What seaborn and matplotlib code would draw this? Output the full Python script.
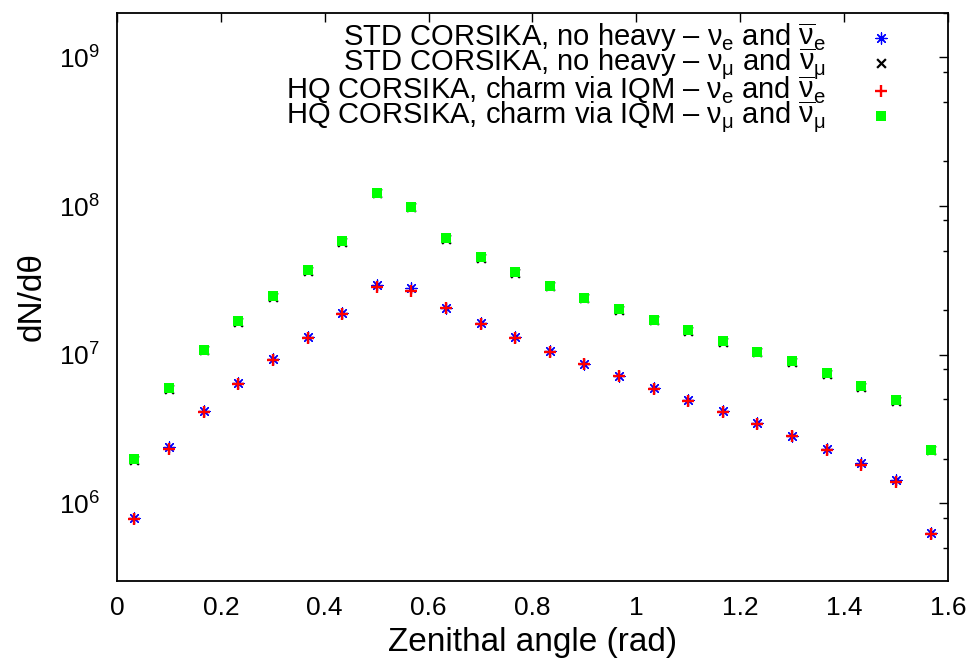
import matplotlib
matplotlib.use("Agg")
import matplotlib.pyplot as plt
from matplotlib.legend import Legend
from matplotlib.ticker import LogLocator, FixedLocator, NullFormatter, LogFormatterSciNotation
import seaborn as sns
import pandas as pd

# ---------------- data ----------------
theta = [0.033, 0.100, 0.167, 0.233, 0.300, 0.367, 0.433, 0.500, 0.567, 0.633,
         0.700, 0.767, 0.833, 0.900, 0.967, 1.033, 1.100, 1.167, 1.233, 1.300,
         1.367, 1.433, 1.500, 1.567]

nue_std = [8.0e5, 2.38e6, 4.2e6, 6.4e6, 9.3e6, 1.31e7, 1.9e7, 2.95e7, 2.8e7, 2.07e7,
           1.63e7, 1.31e7, 1.06e7, 8.7e6, 7.2e6, 5.95e6, 4.95e6, 4.15e6, 3.45e6, 2.85e6,
           2.33e6, 1.86e6, 1.44e6, 6.3e5]
numu_std = [1.97e6, 5.9e6, 1.07e7, 1.66e7, 2.45e7, 3.68e7, 5.75e7, 1.22e8, 9.8e7, 6.0e7,
            4.5e7, 3.55e7, 2.88e7, 2.4e7, 2.0e7, 1.7e7, 1.45e7, 1.22e7, 1.04e7, 8.9e6,
            7.4e6, 6.1e6, 4.9e6, 2.28e6]
nue_hq = [7.9e5, 2.33e6, 4.1e6, 6.3e6, 9.2e6, 1.3e7, 1.88e7, 2.85e7, 2.7e7, 2.05e7,
          1.6e7, 1.3e7, 1.05e7, 8.6e6, 7.15e6, 5.9e6, 4.9e6, 4.1e6, 3.4e6, 2.82e6,
          2.3e6, 1.82e6, 1.4e6, 6.2e5]
numu_hq = [2.0e6, 6.0e6, 1.08e7, 1.68e7, 2.48e7, 3.7e7, 5.8e7, 1.23e8, 9.9e7, 6.1e7,
           4.55e7, 3.6e7, 2.9e7, 2.42e7, 2.02e7, 1.72e7, 1.46e7, 1.23e7, 1.05e7, 9.0e6,
           7.5e6, 6.2e6, 4.95e6, 2.3e6]

series_labels = [
    r"STD CORSIKA, no heavy – $\nu_e$ and $\overline{\nu}_e$",
    r"STD CORSIKA, no heavy – $\nu_\mu$ and $\overline{\nu}_\mu$",
    r"HQ CORSIKA, charm via IQM – $\nu_e$ and $\overline{\nu}_e$",
    r"HQ CORSIKA, charm via IQM – $\nu_\mu$ and $\overline{\nu}_\mu$",
]
x_ticks = [0, 0.2, 0.4, 0.6, 0.8, 1.0, 1.2, 1.4, 1.6]
x_tick_labels = ["0", "0.2", "0.4", "0.6", "0.8", "1", "1.2", "1.4", "1.6"]

# ---------------- style ----------------
sns.set_style("white")
plt.rcParams['font.family'] = ['Liberation Sans', 'DejaVu Sans']
plt.rcParams['mathtext.fontset'] = 'custom'
plt.rcParams['mathtext.rm'] = 'Liberation Sans'
plt.rcParams['mathtext.it'] = 'Liberation Sans'
plt.rcParams['mathtext.bf'] = 'Liberation Sans:bold'
plt.rcParams['mathtext.sf'] = 'Liberation Sans'
for key in ["text.color", "axes.labelcolor", "xtick.color", "ytick.color", "axes.edgecolor"]:
    plt.rcParams[key] = "black"

fig = plt.figure(figsize=(9.7, 6.68), dpi=100)
ax_h = (581 - 12.7) / 668
ax = fig.add_axes([117 / 970, 1 - 581 / 668, (948 - 117) / 970, ax_h])

styles = [
    (nue_std, "#0000ff", (8, 2, 0), 64, 0.9),
    (numu_std, "#000000", "x", 40, 1.6),
    (nue_hq, "#ff0000", "+", 64, 1.7),
    (numu_hq, "#00ff00", "s", 52, 0),
]
for (vals, color, marker, size, lw), lab in zip(styles, series_labels):
    df = pd.DataFrame({"theta": theta, "dNdtheta": vals})
    kws = dict(color=color, marker=marker, s=size, linewidth=lw, label=lab)
    if marker == "s":
        kws["edgecolor"] = "none"
    sns.scatterplot(data=df, x="theta", y="dNdtheta", ax=ax, legend=False, **kws)

ax.set_yscale("log")
ax.set_xlim(0, 1.6)
ax.set_ylim(3e5, 2e9)

ax.xaxis.set_major_locator(FixedLocator(x_ticks))
ax.set_xticklabels(x_tick_labels)
ax.yaxis.set_major_locator(LogLocator(base=10, numticks=12))
ax.yaxis.set_major_formatter(LogFormatterSciNotation())
ax.yaxis.set_minor_locator(LogLocator(base=10, subs=[2, 5, 8], numticks=12))
ax.yaxis.set_minor_formatter(NullFormatter())

ax.tick_params(which="both", direction="in", top=True, right=True, colors="black")
ax.tick_params(which="major", length=6.5, width=1.0, labelsize=19)
ax.tick_params(which="minor", length=3.5, width=1.0)
ax.tick_params(axis="y", which="major", pad=12)
ax.tick_params(axis="x", which="major", pad=11)

for sp in ax.spines.values():
    sp.set_linewidth(1.3)
    sp.set_color("black")

ax.set_xlabel("Zenithal angle (rad)", fontsize=24, labelpad=5)
ax.set_ylabel("dN/dθ", fontsize=24, labelpad=8)

# gnuplot-style key: right-aligned text, sample to the right, one row each
handles, labels = ax.get_legend_handles_labels()
row_px = [37, 63.5, 90, 116.5]
for h, lab, ypx in zip(handles, labels, row_px):
    yfrac = (581 - ypx) / (581 - 12.7)
    leg = Legend(ax, [h], [lab], loc="center right", bbox_to_anchor=(0.937, yfrac),
                 markerfirst=False, frameon=False, fontsize=21, handlelength=1.0,
                 handletextpad=1.4, borderpad=0, borderaxespad=0, scatterpoints=1)
    ax.add_artist(leg)

fig.savefig("out.png", dpi=100)
